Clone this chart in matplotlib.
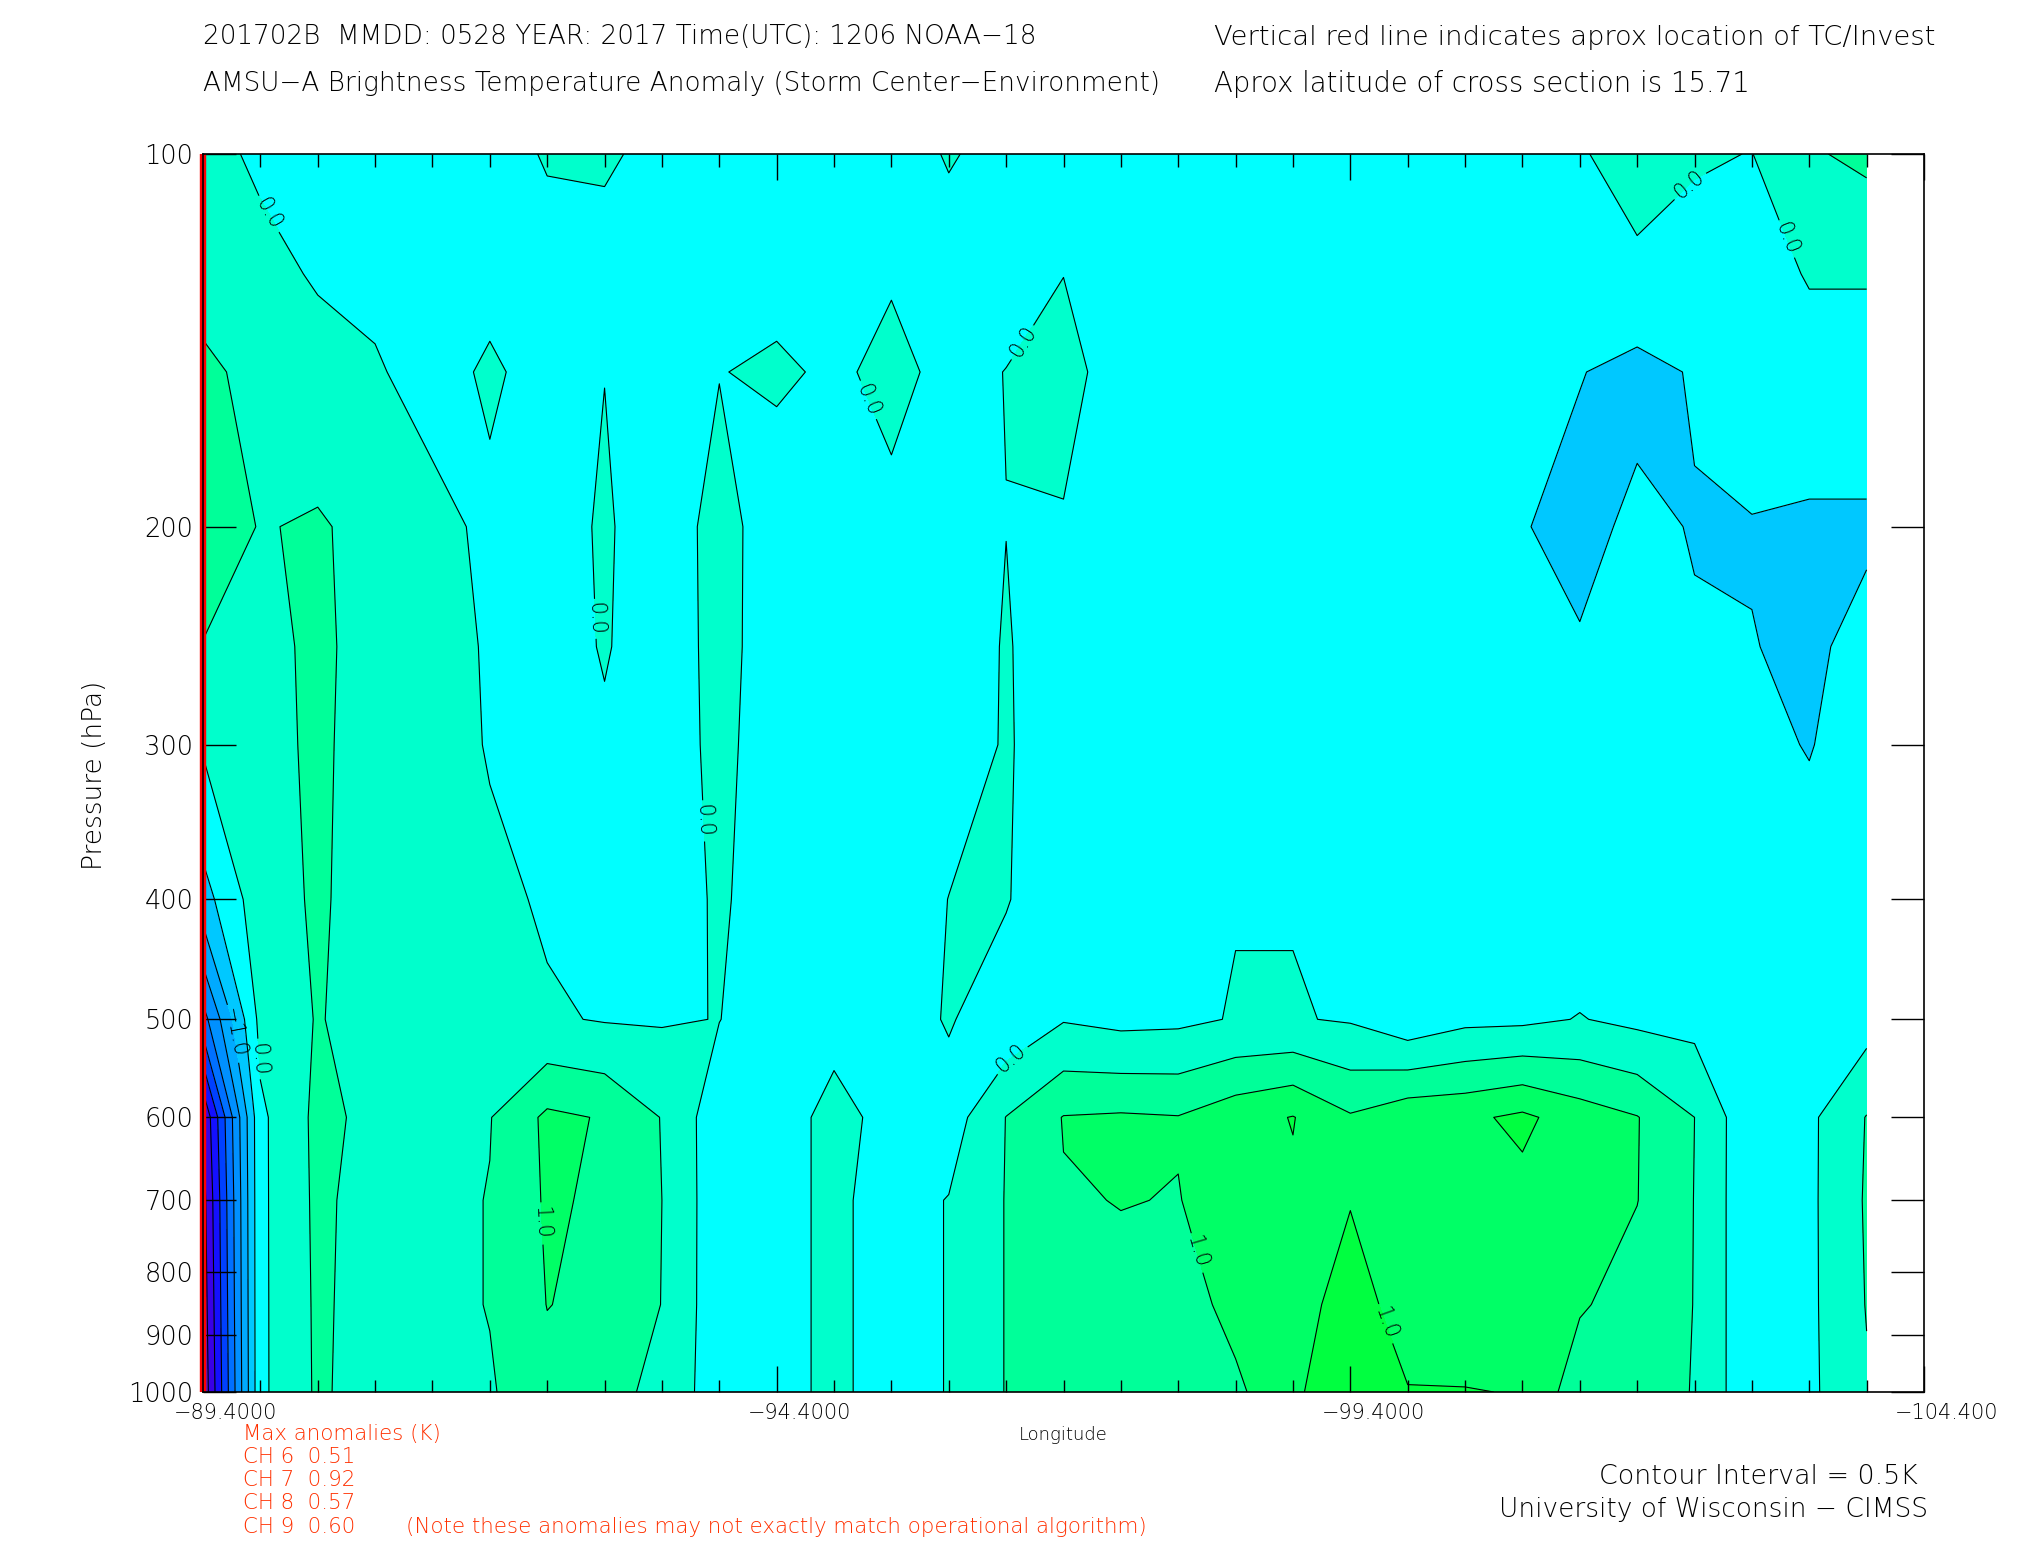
import numpy as np
import matplotlib
matplotlib.use("Agg")
import matplotlib.pyplot as plt
import matplotlib.transforms as mtransforms
from matplotlib.ticker import FixedLocator, NullLocator

# ---------------- data ----------------
lons = [-89.4, -89.9, -90.4, -90.9, -91.4, -91.9, -92.4, -92.9, -93.4, -93.9,
        -94.4, -94.9, -95.4, -95.9, -96.4, -96.9, -97.4, -97.9, -98.4, -98.9,
        -99.4, -99.9, -100.4, -100.9, -101.4, -101.9, -102.4, -102.9, -103.4, -103.9]
pressure = [100, 125, 150, 200, 250, 300, 400, 500, 600, 700, 850, 1000]

t100 = [0.15, -0.08, -0.3, -0.3, -0.3, -0.3, 0.06, 0.1, -0.2, -0.3,
        -0.3, -0.3, -0.3, 0.05, -0.2, -0.3, -0.3, -0.3, -0.3, -0.3,
        -0.3, -0.3, -0.3, -0.2, -0.04, 0.19, 0.048, -0.01, 0.45, 0.6]
t125 = [0.35, 0.15, -0.05, -0.15, -0.3, -0.2, -0.3, -0.3, -0.3, -0.3,
        -0.2, -0.3, -0.05, -0.3, -0.2, -0.01, -0.3, -0.3, -0.3, -0.3,
        -0.3, -0.3, -0.3, -0.3, -0.3, -0.1, -0.2, -0.3, 0.05, 0.05]
t150 = [0.58, 0.385, 0.2, 0.066, -0.25, 0.1, -0.25, -0.01, -0.35, -0.02,
        0.1, -0.1, 0.15, -0.15, 0.01, 0.3, -0.41, -0.3, -0.3, -0.3,
        -0.3, -0.3, -0.3, -0.3, -0.48, -0.65, -0.46, -0.3, -0.3, -0.3]
t200 = [0.8, 0.474, 0.55, 0.35, 0.216, -0.15, -0.35, 0.1, -0.45, 0.28,
        -0.4, -0.35, -0.15, -0.3, -0.005, -0.075, -0.3, -0.3, -0.3, -0.3,
        -0.3, -0.3, -0.3, -0.47, -0.67, -0.38, -0.53, -0.52, -0.55, -0.55]
t250 = [0.48, 0.35, 0.6, 0.3, 0.2, -0.05, -0.3, 0.05, -0.35, 0.2,
        -0.3, -0.3, -0.3, -0.3, 0.04, -0.3, -0.3, -0.3, -0.3, -0.3,
        -0.3, -0.3, -0.3, -0.3, -0.45, -0.35, -0.45, -0.49, -0.56, -0.4]
t300 = [0.05, 0.35, 0.58, 0.3, 0.2, -0.03, -0.3, -0.1, -0.3, 0.15,
        -0.3, -0.3, -0.3, -0.3, 0.05, -0.3, -0.3, -0.3, -0.3, -0.3,
        -0.3, -0.3, -0.3, -0.3, -0.3, -0.3, -0.3, -0.4, -0.52, -0.3]
t400 = [-0.7, 0.3, 0.56, 0.3, 0.25, 0.1, -0.05, -0.3, -0.3, 0.08,
        -0.3, -0.3, -0.45, 0.01, 0.04, -0.45, -0.3, -0.15, -0.02, -0.02,
        -0.2, -0.35, -0.3, -0.3, -0.3, -0.3, -0.3, -0.3, -0.3, -0.3]
t500 = [-2.2, 0.15, 0.53, 0.3, 0.3, 0.2, 0.05, -0.03, -0.04, 0.01,
        -0.3, -0.1, -0.3, 0.05, -0.35, -0.03, -0.13, -0.1, 0.03, 0.03,
        -0.04, -0.34, -0.12, -0.1, 0.02, -0.11, -0.15, -0.3, -0.3, -0.2]
t600 = [-4.0, -0.1, 0.62, 0.38, 0.35, 0.48, 1.1, 0.965, 0.48, -0.32,
        -0.15, 0.1, -0.1, -0.25, 0.51, 1.02, 1.06, 1.02, 1.31, 1.52,
        1.05, 1.36, 1.40, 1.6, 1.25, 1.02, 0.5, -0.4, -0.1, 0.52]
t700 = [-4.2, -0.1, 0.6, 0.3, 0.35, 0.52, 1.06, 0.93, 0.5, -0.32,
        -0.15, 0.1, -0.2, 0.02, 0.52, 0.97, 1.01, 0.99, 1.15, 1.42,
        1.48, 1.3, 1.3, 1.35, 1.15, 1.01, 0.49, -0.4, -0.1, 0.55]
t850 = [-4.3, -0.1, 0.58, 0.3, 0.35, 0.52, 1.01, 0.9, 0.49, -0.32,
        -0.15, 0.1, -0.2, 0.02, 0.52, 0.9, 0.9, 0.78, 1.15, 1.3,
        1.7, 1.3, 1.35, 1.35, 1.05, 0.8, 0.49, -0.4, -0.1, 0.52]
t1000 = [-4.4, -0.1, 0.57, 0.29, 0.35, 0.45, 0.85, 0.6, 0.42, -0.32,
         -0.15, 0.1, -0.2, 0.02, 0.52, 0.85, 0.85, 0.75, 0.9, 1.4,
         1.9, 1.52, 1.51, 1.49, 0.7, 0.6, 0.49, -0.4, -0.1, 0.45]

levels = [-4.5, -4.0, -3.5, -3.0, -2.5, -2.0, -1.5, -1.0, -0.5, 0.0, 0.5, 1.0, 1.5, 2.0]
band_colors = ['#5A14C8', '#3A00E6', '#1410FF', '#0040FF', '#0070FF', '#0090FF',
               '#00AAFF', '#00C8FF', '#00FFFF', '#00FFCC', '#00FF99', '#00FF66', '#00FF40']
labeled_levels = [-1.0, 0.0, 1.0, 1.5]
plain_levels = [-4.0, -3.5, -3.0, -2.5, -2.0, -1.5, -0.5, 0.5]

xtick_vals = [-89.4, -94.4, -99.4, -104.4]
xtick_text = ['\u221289.4000', '\u221294.4000', '\u221299.4000', '\u2212104.400']
ytick_vals = [100, 200, 300, 400, 500, 600, 700, 800, 900, 1000]
ytick_text = ['100', '200', '300', '400', '500', '600', '700', '800', '900', '1000']

max_anom_ch = ['CH 6', 'CH 7', 'CH 8', 'CH 9']
max_anom_val = ['0.51', '0.92', '0.57', '0.60']

# label positions (lon, p) and label texts
label_pos = [(-89.88, 113), (-92.86, 237), (-93.76, 345), (-95.19, 158), (-96.34, 138),
             (-96.46, 541), (-102.36, 106), (-103.2, 117), (-89.9, 538), (-89.62, 513),
             (-92.36, 730), (-98.09, 770), (-99.71, 880)]
label_fmt = {-1.0: '\u22121.0', 0.0: '0.0', 1.0: '1.0', 1.5: '1.0'}

# ---------------- figure ----------------
W, H = 2025, 1550
fig = plt.figure(figsize=(W / 100, H / 100), dpi=100)
ax = fig.add_axes([203 / W, 1 - 1392 / H, (1924 - 203) / W, (1392 - 154) / H])

FONT = dict(family='DejaVu Sans', fontweight=200)

ax.set_yscale('log')
ax.set_xlim(-89.4, -104.4)
ax.set_ylim(1000, 100)

anom = np.array([t100, t125, t150, t200, t250, t300, t400, t500, t600, t700, t850, t1000])
ax.contourf(lons, pressure, anom, levels=levels, colors=band_colors, zorder=1)
ax.contour(lons, pressure, anom, levels=plain_levels, colors='black',
           linewidths=0.8, linestyles='solid', negative_linestyles='solid', zorder=2)
cs = ax.contour(lons, pressure, anom, levels=labeled_levels, colors='black',
                linewidths=0.8, linestyles='solid', negative_linestyles='solid', zorder=2)
ax.clabel(cs, manual=label_pos, fmt=label_fmt, inline=True, inline_spacing=4,
          fontsize=15)
for t in cs.labelTexts:
    t.set_fontweight(200)

ax.set_xlim(-89.4, -104.4)
ax.set_ylim(1000, 100)

# red line marking TC location
ax.plot([-89.4, -89.4], [100, 1000], color='#FF0000', lw=4.6, clip_on=False,
        zorder=6, solid_capstyle='butt')

ax.yaxis.set_major_locator(FixedLocator(ytick_vals))
ax.yaxis.set_minor_locator(NullLocator())
ax.set_yticklabels(ytick_text, fontsize=18.5, **FONT)
ax.xaxis.set_major_locator(FixedLocator(xtick_vals))
ax.xaxis.set_minor_locator(FixedLocator(list(np.arange(-89.4, -104.45, -0.5))))
ax.set_xticklabels(xtick_text, fontsize=15, **FONT)

ax.tick_params(axis='y', which='major', direction='in', left=True, right=True,
               length=24, width=1.0, pad=7)
ax.tick_params(axis='x', which='major', direction='in', top=True, bottom=True,
               length=19, width=1.0, pad=8)
ax.tick_params(axis='x', which='minor', direction='in', top=True, bottom=True,
               length=9, width=1.0)
for sp in ax.spines.values():
    sp.set_linewidth(1.2)
    sp.set_zorder(7)

# x tick labels sit a little right of their ticks in the original
shift = mtransforms.ScaledTranslation(23 / 100, 0, fig.dpi_scale_trans)
for lab in ax.xaxis.get_majorticklabels():
    lab.set_transform(lab.get_transform() + shift)

# ---------------- texts ----------------
def hdr(x, y, s, size):
    fig.text(x / W, 1 - y / H, s, fontsize=size, va='center', ha='left', **FONT)

hdr(203, 37, '201702B  MMDD: 0528 YEAR: 2017 Time(UTC): 1206 NOAA\u221218', 18.95)
hdr(1214, 37, 'Vertical red line indicates aprox location of TC/Invest', 19.7)
hdr(203, 84, 'AMSU\u2212A Brightness Temperature Anomaly (Storm Center\u2212Environment)', 18.9)
hdr(1214, 84, 'Aprox latitude of cross section is 15.71', 19.8)

fig.text(1063 / W, 1 - 1435 / H, 'Longitude', fontsize=13, ha='center', va='center', **FONT)
fig.text(94 / W, 0.5, 'Pressure (hPa)', fontsize=19, rotation=90,
         ha='center', va='center', **FONT)

orange = '#FF3000'
fig.text(243 / W, 1 - 1434 / H, 'Max anomalies (K)', color=orange, fontsize=15.4,
         ha='left', va='center', **FONT)
ys = [1457, 1480, 1503, 1527]
for ch, val, yy in zip(max_anom_ch, max_anom_val, ys):
    fig.text(243 / W, 1 - yy / H, f'{ch}  {val}', color=orange, fontsize=15.4,
             ha='left', va='center', **FONT)
fig.text(406 / W, 1 - 1527 / H,
         '(Note these anomalies may not exactly match operational algorithm)',
         color=orange, fontsize=15.4, ha='left', va='center', **FONT)

fig.text(1918 / W, 1 - 1477 / H, 'Contour Interval = 0.5K', fontsize=19.4,
         ha='right', va='center', **FONT)
fig.text(1928 / W, 1 - 1510 / H, 'University of Wisconsin \u2212 CIMSS', fontsize=19,
         ha='right', va='center', **FONT)

fig.savefig('out.png', dpi=100, facecolor='white')
